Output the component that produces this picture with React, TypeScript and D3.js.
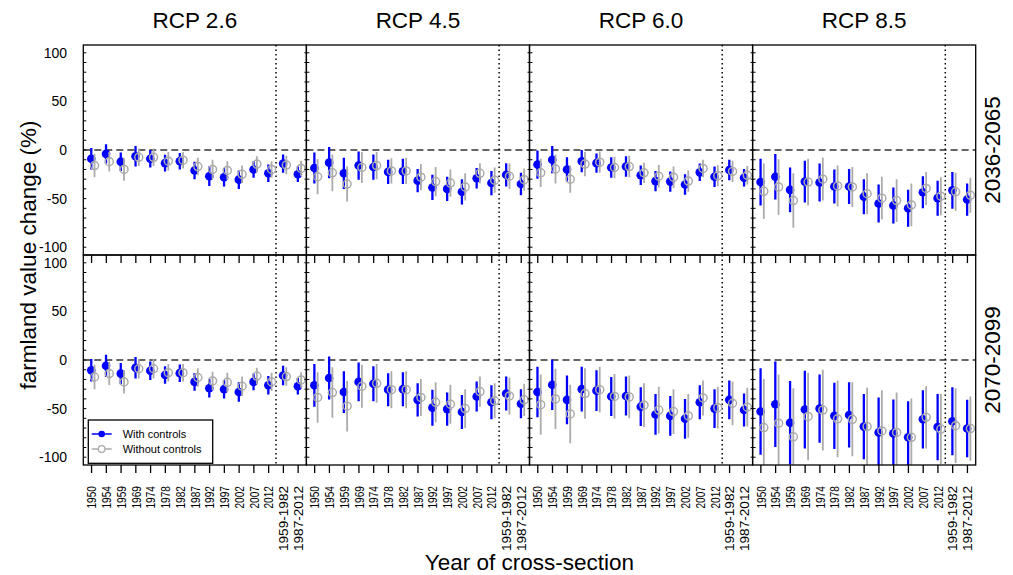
import React from "react";
import * as d3 from "d3";

const categories = ["1950","1954","1959","1969","1974","1978","1982","1987","1992","1997","2002","2007","2012","1959-1982","1987-2012"];
const scenarios = ["RCP 2.6","RCP 4.5","RCP 6.0","RCP 8.5"];
const periods = ["2036-2065","2070-2099"];
const yTicks = [100, 50, 0, -50, -100];
const seriesNames = ["With controls","Without controls"];

// 2036-2065
const with26Mid = [-9, -4, -12, -6.5, -9, -13.5, -11.5, -21, -27, -28, -30.5, -20, -24, -14, -25];
const with26MidCI = [11, 10, 9.5, 10.5, 9, 8.5, 8.5, 9, 10, 9.5, 9.5, 8.5, 9, 9.5, 8];
const without26Mid = [-16, -12, -20, -7.5, -7.5, -11.5, -10.5, -17, -20, -21, -25, -14.5, -20, -15.5, -19];
const without26MidCI = [12, 10, 11.5, 9, 9, 9.5, 8.5, 9, 10, 9.5, 9, 8, 8.5, 9.5, 8];

const with45Mid = [-18.5, -13, -24, -16, -17.5, -22.5, -22, -31.5, -38.5, -40, -43, -29, -34, -25.5, -35];
const with45MidCI = [16, 16, 16, 14.5, 13, 12.5, 13, 12, 13, 12.5, 13, 10.5, 12.5, 12, 11.5];
const without45Mid = [-27.5, -23.5, -35, -18, -16, -21.5, -21.5, -28, -32.5, -34, -38, -24, -31, -27, -30.5];
const without45MidCI = [18, 19, 18, 16, 14, 13, 13.5, 13.5, 15, 14, 14, 10.5, 13, 13, 11.5];

const with60Mid = [-15, -10, -20, -11.5, -13.5, -18, -17, -26, -32, -32.5, -35.5, -23, -27.5, -20.5, -28.5];
const with60MidCI = [14.5, 14, 12.5, 11.5, 10, 10.5, 10.5, 10, 10.5, 10.5, 10.5, 9, 10.5, 10.5, 9];
const without60Mid = [-23.5, -19.5, -30, -14.5, -12.5, -18, -17, -23.5, -27, -28, -32, -19, -26.5, -22, -26];
const without60MidCI = [14.5, 15, 14, 12.5, 11, 11, 11, 10.5, 11.5, 11, 11, 9, 11, 11, 9.5];

const with85Mid = [-33, -27.5, -41, -32.5, -33.5, -37.5, -37.5, -48, -55, -57, -60, -43.5, -49.5, -41.5, -51];
const with85MidCI = [24, 23.5, 23, 21.5, 19.5, 17.5, 18, 18, 19.5, 18.5, 19, 16.5, 18, 19, 16.5];
const without85Mid = [-42.5, -38, -52, -33, -30, -37, -38, -45, -49.5, -52, -56.5, -39.5, -47.5, -43, -46.5];
const without85MidCI = [28.5, 28.5, 28, 24, 22, 21, 20.5, 21, 22, 22, 22, 17, 19.5, 19.5, 18];

// 2070-2099
const with26Late = [-10.5, -6, -14, -8, -11, -15.5, -13.5, -22.5, -29, -30, -33, -22.5, -26, -16, -27];
const with26LateCI = [11.5, 11.5, 11, 11, 9.5, 9, 9, 9, 9.5, 9.5, 10, 8.5, 9.5, 10, 8.5];
const without26Late = [-17.5, -14, -22.5, -9, -9, -13, -13, -18, -21.5, -23, -27, -16.5, -22.5, -17, -20.5];
const without26LateCI = [12.5, 12, 12, 10, 10, 9, 9, 9.5, 9.5, 10, 10, 8.5, 9.5, 9.5, 8];

const with45Late = [-26, -18.5, -33, -22.5, -24.5, -30.5, -30, -41, -49, -50.5, -53.5, -37.5, -43.5, -34.5, -45];
const with45LateCI = [22, 22, 21.5, 20, 18, 17, 17.5, 17, 18.5, 17, 17.5, 15.5, 17.5, 17.5, 15];
const without45Late = [-38.5, -33.5, -47.5, -27, -24, -30.5, -30.5, -38.5, -43.5, -45.5, -50, -32.5, -42, -37, -41];
const without45LateCI = [26, 26, 26, 22, 20, 19, 19, 19, 20.5, 20, 20, 15.5, 18, 19, 16.5];

const with60Late = [-33, -25.5, -41, -30, -31.5, -37.5, -37, -48, -56, -57.5, -60.5, -43.5, -50, -41, -51.5];
const with60LateCI = [26, 26, 25, 23, 21, 20, 20, 20, 21, 20.5, 20.5, 17.5, 20, 20, 17];
const without60Late = [-46, -40, -55.5, -34.5, -30.5, -37.5, -38, -46.5, -51.5, -53, -57.5, -39, -49, -44.5, -48.5];
const without60LateCI = [31, 31, 30, 26, 23.5, 23, 22, 22.5, 24, 23, 22.5, 18, 21.5, 22.5, 20];

const with85Late = [-53, -45.5, -64.5, -51, -50, -57.5, -56.5, -68.5, -74.5, -75.5, -79.5, -61, -69, -63, -70.5];
const with85LateCI = [44.5, 44, 43, 40, 35, 34, 33.5, 33.5, 36, 35, 37, 30, 34, 35, 29.5];
const without85Late = [-69.5, -65, -79, -58, -51.5, -60.5, -61, -68.5, -73, -74.5, -79.5, -59, -71, -67.5, -70.5];
const without85LateCI = [50, 50, 50, 45, 41.5, 39.5, 38, 40, 42, 41, 40, 32, 36, 38.5, 33];

const panels = [
  [
    { w: with26Mid, wc: with26MidCI, o: without26Mid, oc: without26MidCI },
    { w: with45Mid, wc: with45MidCI, o: without45Mid, oc: without45MidCI },
    { w: with60Mid, wc: with60MidCI, o: without60Mid, oc: without60MidCI },
    { w: with85Mid, wc: with85MidCI, o: without85Mid, oc: without85MidCI },
  ],
  [
    { w: with26Late, wc: with26LateCI, o: without26Late, oc: without26LateCI },
    { w: with45Late, wc: with45LateCI, o: without45Late, oc: without45LateCI },
    { w: with60Late, wc: with60LateCI, o: without60Late, oc: without60LateCI },
    { w: with85Late, wc: with85LateCI, o: without85Late, oc: without85LateCI },
  ],
];

const W = 1013, H = 575;
const left0 = 83.3, panelW = 223.1, top0 = 45, panelH = 210;
const BLUE = "#0000ff", GRAY = "#ababab";
const FONT = "'Liberation Sans', Arial, sans-serif";
const BIG = 22.5;

export default function App() {
  const minorTicks = d3.range(-100, 101, 10);
  return (
    <div style={{ position: "absolute", left: 0, top: 0 }}>
      <svg width={W} height={H} style={{ display: "block", background: "#fff" }} fontFamily={FONT}>
        <defs>
          {panels.map((row, r) => row.map((_, c) => (
            <clipPath id={`clip-${r}-${c}`} key={`${r}-${c}`}>
              <rect x={left0 + c * panelW} y={top0 + r * panelH} width={panelW} height={panelH} />
            </clipPath>
          )))}
        </defs>
        {panels.map((row, r) => row.map((p, c) => {
          const x0 = left0 + c * panelW;
          const y0 = top0 + r * panelH;
          const x = d3.scaleLinear().domain([0.44, 15.56]).range([x0, x0 + panelW]);
          const y = d3.scaleLinear().domain([-108, 108]).range([y0 + panelH, y0]);
          const idx = d3.range(categories.length);
          return (
            <g key={`p-${r}-${c}`}>
              <g clipPath={`url(#clip-${r}-${c})`}>
                <line x1={x0} x2={x0 + panelW} y1={y(0)} y2={y(0)} stroke="#333" strokeWidth={1.5} strokeDasharray="7,4" />
                <line x1={x(13.5)} x2={x(13.5)} y1={y0} y2={y0 + panelH} stroke="#000" strokeWidth={1.5} strokeDasharray="1.5,3" />
                {idx.map(i => (
                  <line key={`wb${i}`} x1={x(i + 1 - 0.02)} x2={x(i + 1 - 0.02)} y1={y(p.w[i] + p.wc[i])} y2={y(p.w[i] - p.wc[i])} stroke={BLUE} strokeWidth={2.3} />
                ))}
                {idx.map(i => (
                  <circle key={`wp${i}`} cx={x(i + 1 - 0.02)} cy={y(p.w[i])} r={4.3} fill={BLUE} />
                ))}
                {idx.map(i => (
                  <line key={`ob${i}`} x1={x(i + 1 + 0.2)} x2={x(i + 1 + 0.2)} y1={y(p.o[i] + p.oc[i])} y2={y(p.o[i] - p.oc[i])} stroke={GRAY} strokeWidth={1.8} />
                ))}
                {idx.map(i => (
                  <circle key={`op${i}`} cx={x(i + 1 + 0.2)} cy={y(p.o[i])} r={4} fill="none" stroke={GRAY} strokeWidth={1.5} />
                ))}
              </g>
              {minorTicks.map(t => (
                <line key={`mt${t}`} x1={c === 0 ? x0 : x0 - 2} x2={x0 + 3} y1={y(t)} y2={y(t)} stroke="#000" strokeWidth={1} />
              ))}
              {idx.map(i => (
                <line key={`xt${i}`} x1={x(i + 1)} x2={x(i + 1)} y1={y0 + panelH} y2={y0 + panelH + 8} stroke="#000" strokeWidth={1.3} />
              ))}
              <rect x={x0} y={y0} width={panelW} height={panelH} fill="none" stroke="#000" strokeWidth={1.3} />
              {r === 1 && idx.map(i => (
                <text key={`xl${i}`} transform={`translate(${x(i + 1)},${y0 + panelH + 21}) rotate(-90)`} textAnchor="end" dy="0.36em" fontSize={13}
                  textLength={categories[i].length > 4 ? 65 : 22.5} lengthAdjust="spacingAndGlyphs">{categories[i]}</text>
              ))}
              {r === 0 && (
                <text x={x0 + panelW / 2} y={28} textAnchor="middle" fontSize={BIG}>{scenarios[c]}</text>
              )}
              {c === 0 && yTicks.map(t => (
                <text key={`yl${t}`} x={67} y={y(t)} dy="0.36em" textAnchor="end" fontSize={14}>{t}</text>
              ))}
              {c === 3 && (
                <text transform={`translate(${1000},${y0 + panelH / 2}) rotate(-90)`} textAnchor="middle" fontSize={BIG}>{periods[r]}</text>
              )}
            </g>
          );
        }))}
        <text transform={`translate(36,${top0 + panelH}) rotate(-90)`} textAnchor="middle" fontSize={BIG}>farmland value change (%)</text>
        <text x={left0 + 2 * panelW} y={570} textAnchor="middle" fontSize={BIG}>Year of cross-section</text>
        <g>
          <rect x={88.3} y={420} width={124.4} height={43.3} fill="#fff" stroke="#000" strokeWidth={1.3} />
          {seriesNames.map((s, i) => {
            const ly = 434 + i * 15;
            const col = i === 0 ? BLUE : GRAY;
            return (
              <g key={s}>
                <line x1={91.7} x2={111.7} y1={ly} y2={ly} stroke={col} strokeWidth={1.5} />
                {i === 0 ? <circle cx={101.7} cy={ly} r={3.3} fill={BLUE} /> : <circle cx={101.7} cy={ly} r={3.3} fill="#fff" stroke={GRAY} strokeWidth={1.3} />}
                <text x={122.7} y={ly} dy="0.36em" fontSize={11}>{s}</text>
              </g>
            );
          })}
        </g>
      </svg>
    </div>
  );
}
